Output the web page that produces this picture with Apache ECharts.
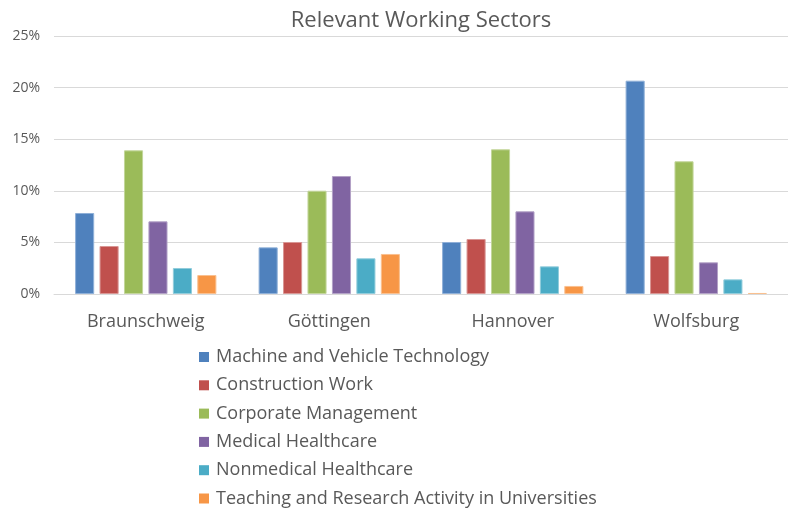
<!DOCTYPE html>
<html>
<head>
<meta charset="utf-8">
<script src="https://cdn.jsdelivr.net/npm/echarts@6/dist/echarts.min.js"></script>
<style>
  html, body { margin: 0; padding: 0; background: #fff; }
  #chart { width: 788px; height: 508px; }
</style>
</head>
<body>
<div id="chart"></div>
<script>
// Cities on the category axis
const cities = ['Braunschweig', 'Göttingen', 'Hannover', 'Wolfsburg'];

// Share of each working sector per city, in percent
const machineVehicle = [7.85, 4.52, 5.04, 20.67];
const construction   = [4.65, 5.04, 5.33, 3.68];
const corporateMgmt  = [13.92, 10.01, 14.02, 12.86];
const medicalCare    = [7.04, 11.43, 8.01, 3.07];
const nonmedicalCare = [2.52, 3.46, 2.68, 1.42];
const universities   = [1.84, 3.88, 0.78, 0.10];

const sectorNames = [
  'Machine and Vehicle Technology',
  'Construction Work',
  'Corporate Management',
  'Medical Healthcare',
  'Nonmedical Healthcare',
  'Teaching and Research Activity in Universities'
];
const sectorValues = [machineVehicle, construction, corporateMgmt, medicalCare, nonmedicalCare, universities];

const colors = ['#4F81BD', '#C0504D', '#9BBB59', '#8064A2', '#4BACC6', '#F79646'];
const edgeColors = ['#8fb0d8', '#d99694', '#c3d69b', '#b3a2c7', '#92cddc', '#fac090'];

const font = '"Open Sans", "Noto Sans", sans-serif';
const textColor = '#595959';

const chart = echarts.init(document.getElementById('chart'), null, { renderer: 'canvas' });

chart.setOption({
  animation: false,
  color: colors,
  title: {
    text: 'Relevant Working Sectors',
    left: 416,
    textAlign: 'center',
    top: 5,
    textStyle: { fontFamily: font, fontSize: 22, fontWeight: 'normal', color: textColor }
  },
  legend: {
    orient: 'vertical',
    left: 199,
    top: 347,
    height: 200,
    padding: 0,
    itemWidth: 10,
    itemHeight: 10,
    itemGap: 8.3,
    icon: 'rect',
    itemStyle: { borderWidth: 0 },
    textStyle: { fontFamily: font, fontSize: 18, color: textColor, lineHeight: 20, padding: [0, 0, 0, 2] },
    data: sectorNames
  },
  grid: { left: 54, right: 0, top: 36, bottom: 214, containLabel: false },
  xAxis: {
    type: 'category',
    data: cities,
    axisLine: { lineStyle: { color: '#d9d9d9', width: 1 } },
    axisTick: { show: false },
    axisLabel: { fontFamily: font, fontSize: 18, color: textColor, margin: 19 }
  },
  yAxis: {
    type: 'value',
    min: 0,
    max: 25,
    interval: 5,
    axisLine: { show: false },
    axisTick: { show: false },
    splitLine: { lineStyle: { color: '#d9d9d9', width: 1 } },
    axisLabel: { fontFamily: font, fontSize: 14, color: textColor, margin: 14, formatter: '{value}%' }
  },
  series: sectorNames.map((name, i) => ({
    name: name,
    type: 'bar',
    data: sectorValues[i],
    barGap: '28%',
    barCategoryGap: '23%',
    itemStyle: { color: colors[i], borderColor: edgeColors[i], borderWidth: 1 }
  }))
});
</script>
</body>
</html>
